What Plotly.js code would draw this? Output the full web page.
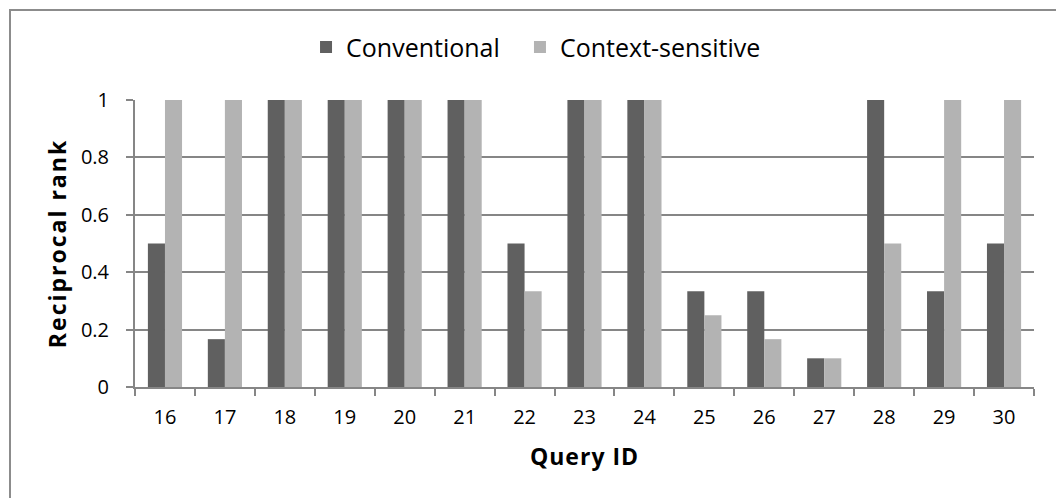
<!DOCTYPE html>
<html>
<head>
<meta charset="utf-8">
<script src="https://cdn.plot.ly/plotly-3.0.1.min.js"></script>
<style>
html,body{margin:0;padding:0;background:#fff;overflow:hidden;}
#wrap{position:relative;width:1056px;height:498px;overflow:hidden;}
#chart{width:1056px;height:498px;}
#frame{position:absolute;left:9px;top:9px;width:1200px;height:700px;border:2px solid #8c8c8c;pointer-events:none;box-sizing:border-box;}
#chart .ytitle{letter-spacing:2px;}
#chart .xtitle{letter-spacing:1px;}
</style>
</head>
<body>
<div id="wrap">
<div id="chart"></div>
<div id="frame"></div>
</div>
<script>
const queryIds = ["16","17","18","19","20","21","22","23","24","25","26","27","28","29","30"];
const conventional = [0.5, 0.1667, 1, 1, 1, 1, 0.5, 1, 1, 0.3333, 0.3333, 0.1, 1, 0.3333, 0.5];
const contextSensitive = [1, 1, 1, 1, 1, 1, 0.3333, 1, 1, 0.25, 0.1667, 0.1, 0.5, 1, 1];
const yTicks = [0, 0.2, 0.4, 0.6, 0.8, 1];
const yTickText = ["0", "0.2", "0.4", "0.6", "0.8", "1"];

const FONT = "'Open Sans', sans-serif";
const GRID = "#868686";

const data = [
  {type: "bar", name: "Conventional", x: queryIds, y: conventional, legend: "legend",
   marker: {color: "#606060", line: {width: 0}}},
  {type: "bar", name: "Context-sensitive", x: queryIds, y: contextSensitive, legend: "legend2",
   marker: {color: "#b3b3b3", line: {width: 0}}}
];

const legendBase = {orientation: "h", xref: "container", yref: "container",
  xanchor: "left", y: 0.905, yanchor: "middle",
  font: {family: FONT, size: 25, color: "#000"}};

const layout = {
  width: 1056, height: 498,
  margin: {l: 135, r: 22, t: 100, b: 111},
  paper_bgcolor: "#fff", plot_bgcolor: "#fff",
  font: {family: FONT, size: 20, color: "#000"},
  barmode: "group", bargap: 0.43, bargroupgap: 0,
  showlegend: true,
  legend: Object.assign({}, legendBase, {x: 0.2898}),
  legend2: Object.assign({}, legendBase, {x: 0.4924}),
  xaxis: {type: "category", tickson: "boundaries", ticks: "outside", ticklen: 7, tickwidth: 2,
          tickcolor: GRID, showline: true, linecolor: GRID, linewidth: 2, showgrid: false,
          ticklabelstandoff: 11, tickfont: {family: FONT, size: 20, color: "#000"},
          title: {text: "Query ID", font: {family: FONT, size: 23, weight: "bold", color: "#000"}, standoff: 20}},
  yaxis: {range: [0, 1], tickvals: yTicks, ticktext: yTickText, ticks: "outside", ticklen: 7, tickwidth: 2,
          tickcolor: GRID, showline: true, linecolor: GRID, linewidth: 2, showgrid: true,
          gridcolor: GRID, gridwidth: 2, zeroline: false, ticklabelstandoff: 13,
          tickfont: {family: FONT, size: 20, color: "#000"},
          title: {text: "Reciprocal rank", font: {family: FONT, size: 23, weight: "bold", color: "#000"}, standoff: 8}}
};

Plotly.newPlot("chart", data, layout, {displayModeBar: false, staticPlot: true});
</script>
</body>
</html>
